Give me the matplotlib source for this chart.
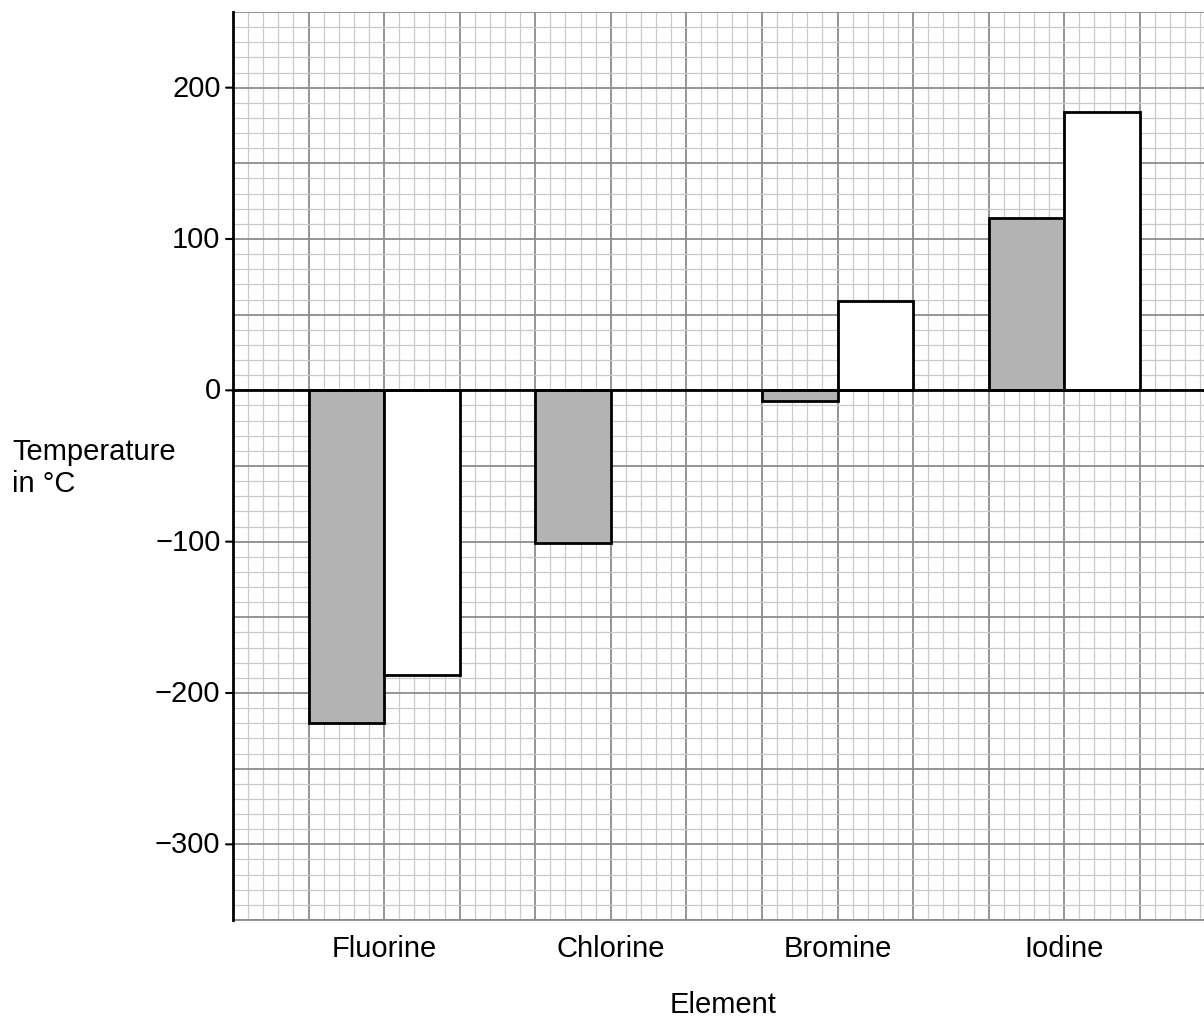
import numpy as np
import matplotlib.pyplot as plt
from matplotlib.ticker import MultipleLocator

plt.rcParams['font.family'] = ['Liberation Sans', 'DejaVu Sans']

elements = ["Fluorine", "Chlorine", "Bromine", "Iodine"]
melting = [-220, -101, -7, 114]
boiling = [-188, np.nan, 59, 184]
y_ticks = [-300, -200, -100, 0, 100, 200]

fig = plt.figure(figsize=(12.04, 10.2), dpi=100)
ax = fig.add_axes([233 / 1204, 1 - 921 / 1020, 1 - 233 / 1204, (921 - 13) / 1020])

# graph paper
ax.set_xlim(0, 12.85)
ax.set_ylim(-350, 250)
ax.xaxis.set_major_locator(MultipleLocator(1))
ax.xaxis.set_minor_locator(MultipleLocator(0.2))
ax.yaxis.set_major_locator(MultipleLocator(50))
ax.yaxis.set_minor_locator(MultipleLocator(10))
ax.grid(which='minor', color='#cacaca', linewidth=0.9)
ax.grid(which='major', color='#8c8c8c', linewidth=1.3)
ax.set_axisbelow(True)

centers = np.arange(len(elements)) * 3 + 2
ax.bar(centers - 0.5, melting, width=1, color='#b3b3b3', edgecolor='black', linewidth=2, zorder=3)
ax.bar(centers + 0.5, boiling, width=1, color='white', edgecolor='black', linewidth=2, zorder=3)
ax.axhline(0, color='black', linewidth=2, zorder=4)

for s in ['top', 'right']:
    ax.spines[s].set_visible(False)
ax.spines['bottom'].set_color('#8c8c8c')
ax.spines['bottom'].set_linewidth(1.3)
ax.spines['left'].set_linewidth(2)
ax.spines['left'].set_zorder(5)

ax.tick_params(axis='x', which='both', length=0, labelbottom=False)
ax.tick_params(axis='y', which='both', length=0, labelleft=False)
for v in y_ticks:
    lab = str(v).replace('-', '\u2212')
    ax.annotate(lab, xy=(0, v), xycoords=('axes fraction', 'data'), xytext=(-9, 0),
                textcoords='offset points', ha='right', va='center', fontsize=21)
    ax.annotate('', xy=(0, v), xycoords=('axes fraction', 'data'), xytext=(-5, 0),
                textcoords='offset points',
                arrowprops=dict(arrowstyle='-', color='black', lw=1.5, shrinkA=0, shrinkB=0))

for c, name in zip(centers, elements):
    ax.annotate(name, xy=(c, -350), xycoords='data', xytext=(0, -20), textcoords='offset points',
                ha='center', va='center', fontsize=21)

fig.text(723 / 1204, 1 - 1005 / 1020, "Element", ha='center', va='center', fontsize=21)
fig.text(12 / 1204, 1 - 468 / 1020, "Temperature\nin °C", ha='left', va='center', fontsize=21,
         linespacing=1.15)

fig.savefig("out.png", dpi=100)
